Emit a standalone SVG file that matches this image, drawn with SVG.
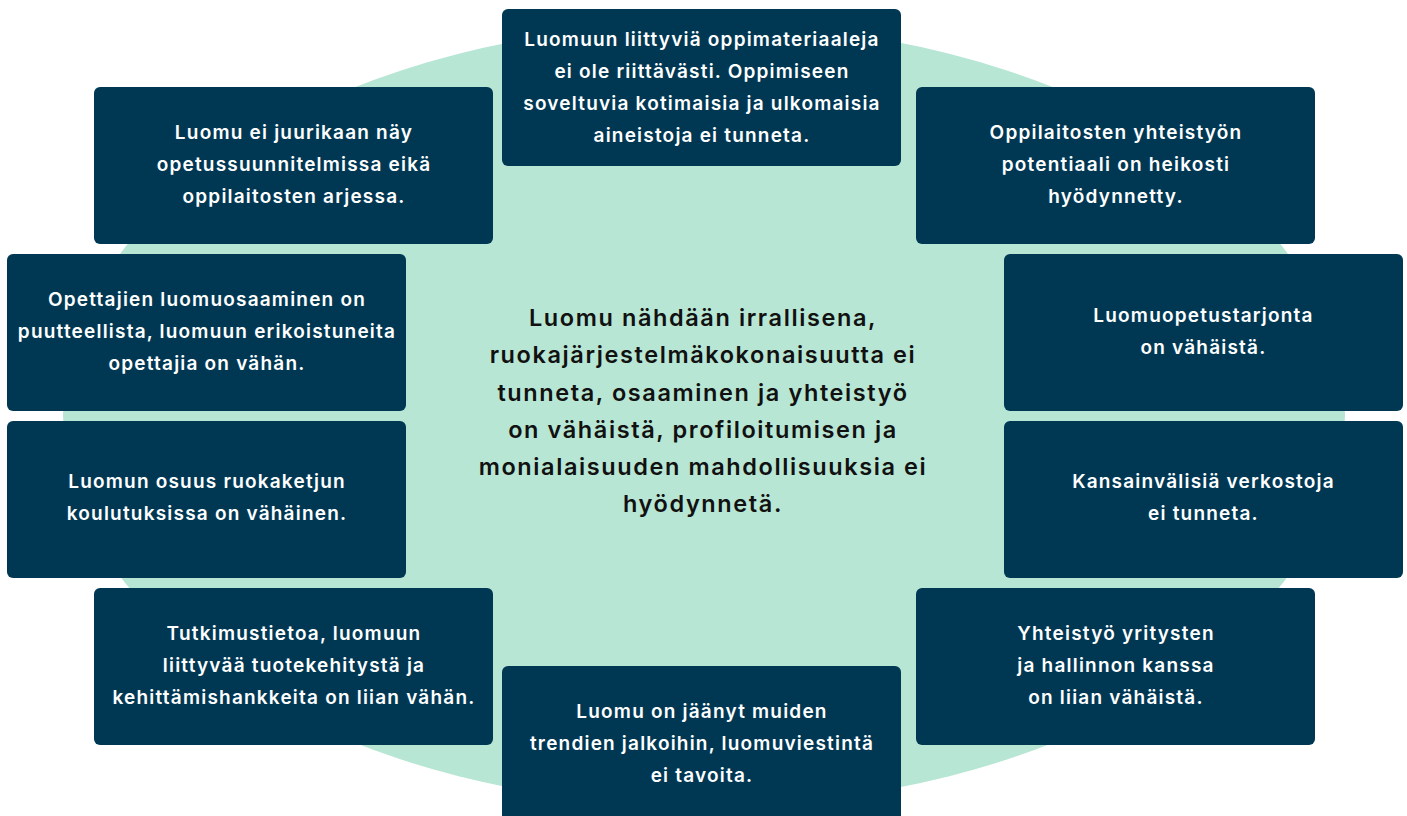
<svg xmlns="http://www.w3.org/2000/svg" width="1407" height="816" viewBox="0 0 1407 816">
<style>
.box{fill:#003854}
.t{font-family:Inter,"Noto Sans","Liberation Sans",sans-serif;font-weight:600;font-size:19px;letter-spacing:1.2px;fill:#ffffff;text-anchor:middle}
.c{font-family:Inter,"Noto Sans","Liberation Sans",sans-serif;font-weight:600;font-size:23.5px;letter-spacing:1.6px;fill:#111111;text-anchor:middle}
</style>
<rect width="1407" height="816" fill="#ffffff"/>
<ellipse cx="704" cy="415" rx="641" ry="391" fill="#b8e6d4"/>
<g id="connectors"/>
<g id="center">
<text class="c"><tspan x="703" y="326">Luomu nähdään irrallisena,</tspan><tspan x="703" y="363">ruokajärjestelmäkokonaisuutta ei</tspan><tspan x="703" y="400.5">tunneta, osaaminen ja yhteistyö</tspan><tspan x="703" y="437.5">on vähäistä, profiloitumisen ja</tspan><tspan x="703" y="474.5">monialaisuuden mahdollisuuksia ei</tspan><tspan x="703" y="511.5">hyödynnetä.</tspan></text>
</g>
<g id="n-top">
<rect class="box" x="502" y="9" width="399" height="157" rx="6"/>
<text class="t"><tspan x="702" y="46">Luomuun liittyviä oppimateriaaleja</tspan><tspan x="702" y="78">ei ole riittävästi. Oppimiseen</tspan><tspan x="702" y="110">soveltuvia kotimaisia ja ulkomaisia</tspan><tspan x="702" y="142">aineistoja ei tunneta.</tspan></text>
</g>
<g id="n-tl">
<rect class="box" x="94" y="87" width="399" height="157" rx="6"/>
<text class="t"><tspan x="294" y="139">Luomu ei juurikaan näy</tspan><tspan x="294" y="171">opetussuunnitelmissa eikä</tspan><tspan x="294" y="203">oppilaitosten arjessa.</tspan></text>
</g>
<g id="n-tr">
<rect class="box" x="916" y="87" width="399" height="157" rx="6"/>
<text class="t"><tspan x="1116" y="139">Oppilaitosten yhteistyön</tspan><tspan x="1116" y="171">potentiaali on heikosti</tspan><tspan x="1116" y="203">hyödynnetty.</tspan></text>
</g>
<g id="n-l1">
<rect class="box" x="7" y="254" width="399" height="157" rx="6"/>
<text class="t"><tspan x="207" y="306">Opettajien luomuosaaminen on</tspan><tspan x="207" y="338">puutteellista, luomuun erikoistuneita</tspan><tspan x="207" y="370">opettajia on vähän.</tspan></text>
</g>
<g id="n-l2">
<rect class="box" x="7" y="421" width="399" height="157" rx="6"/>
<text class="t"><tspan x="207" y="488">Luomun osuus ruokaketjun</tspan><tspan x="207" y="520">koulutuksissa on vähäinen.</tspan></text>
</g>
<g id="n-r1">
<rect class="box" x="1004" y="254" width="399" height="157" rx="6"/>
<text class="t"><tspan x="1203.5" y="321.5">Luomuopetustarjonta</tspan><tspan x="1203.5" y="354">on vähäistä.</tspan></text>
</g>
<g id="n-r2">
<rect class="box" x="1004" y="421" width="399" height="157" rx="6"/>
<text class="t"><tspan x="1203.5" y="488">Kansainvälisiä verkostoja</tspan><tspan x="1203.5" y="520">ei tunneta.</tspan></text>
</g>
<g id="n-bl">
<rect class="box" x="94" y="588" width="399" height="157" rx="6"/>
<text class="t"><tspan x="294" y="640">Tutkimustietoa, luomuun</tspan><tspan x="294" y="672">liittyvää tuotekehitystä ja</tspan><tspan x="294" y="704">kehittämishankkeita on liian vähän.</tspan></text>
</g>
<g id="n-br">
<rect class="box" x="916" y="588" width="399" height="157" rx="6"/>
<text class="t"><tspan x="1116" y="640">Yhteistyö yritysten</tspan><tspan x="1116" y="672">ja hallinnon kanssa</tspan><tspan x="1116" y="704">on liian vähäistä.</tspan></text>
</g>
<g id="n-bottom">
<rect class="box" x="502" y="666" width="399" height="157" rx="6"/>
<text class="t"><tspan x="702" y="718">Luomu on jäänyt muiden</tspan><tspan x="702" y="750">trendien jalkoihin, luomuviestintä</tspan><tspan x="702" y="782">ei tavoita.</tspan></text>
</g>
</svg>
